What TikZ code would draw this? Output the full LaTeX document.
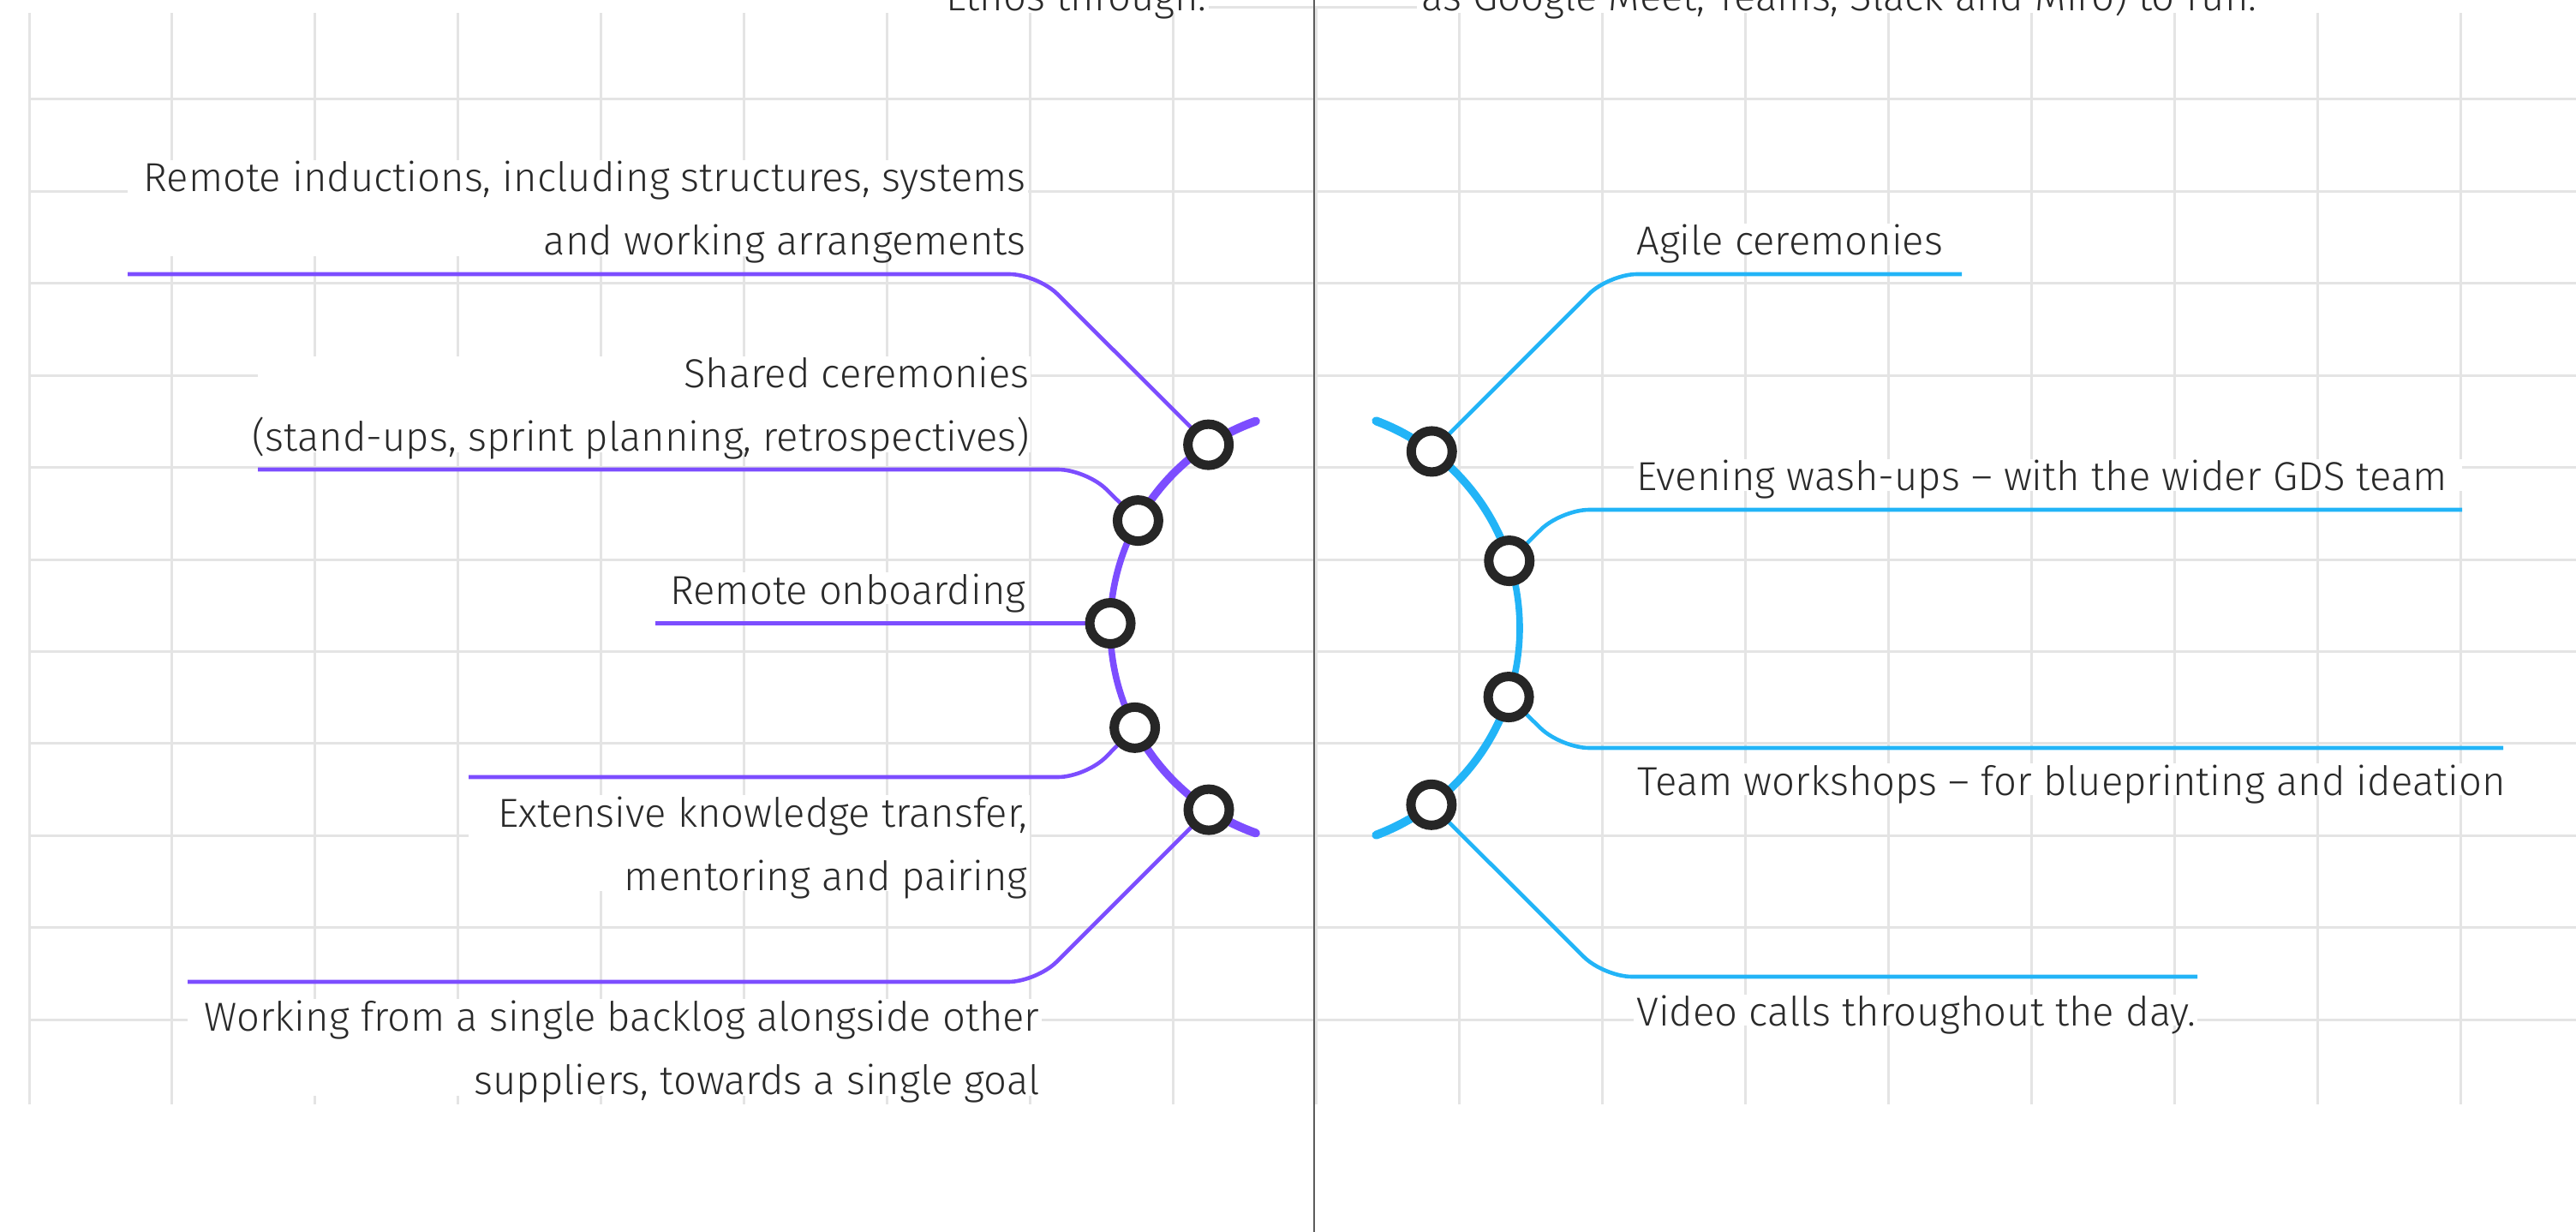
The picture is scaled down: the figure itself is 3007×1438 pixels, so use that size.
\documentclass[tikz,border=0pt]{standalone}
\usepackage{fontspec}
\IfFontExistsTF{Fira Sans Light}{\setmainfont{Fira Sans Light}}{%
  \IfFontExistsTF{Lato Light}{\setmainfont{Lato Light}}{\setmainfont{Fira Sans}}}
\definecolor{lpurple}{HTML}{7C4DFF}
\definecolor{lblue}{HTML}{22B4F7}
\definecolor{gridgray}{HTML}{E4E4E4}
\definecolor{ringgray}{HTML}{262626}
\definecolor{textgray}{HTML}{2A2A2A}
\definecolor{divgray}{HTML}{5C5C5C}
\begin{document}
\begin{tikzpicture}[x=0.5pt, y=-0.5pt,
  gridline/.style={draw=gridgray, line width=1.5pt},
  divider/.style={draw=divgray, line width=1.4pt},
  conn/.style={line width=2.3pt, rounded corners=16.5pt},
  ring/.style={circle, draw=ringgray, line width=5.5pt, fill=white,
               minimum size=24pt, inner sep=0pt},
  lbl/.style={inner sep=0pt, text=textgray, font=\fontsize{23.6pt}{37pt}\selectfont},
  bg/.style={fill=white}]

\useasboundingbox (0,0) rectangle (3007,1438);
\clip (0,0) rectangle (3007,1438);

% background grid
\foreach \k in {0,...,17}
  \draw[gridline] ({34+166.94*\k},8.6) -- ({34+166.94*\k},1289);
\foreach \k in {0,...,11}
  \draw[gridline] (34,{8.6+107.4*\k}) -- (3007,{8.6+107.4*\k});

% text backgrounds
\fill[bg] (0,-20) rectangle (1411,15);
\fill[bg] (1654,-20) rectangle (3007,15);
\fill[bg] (149,187) rectangle (1200,299);
\fill[bg] (301,416) rectangle (1203,528);
\fill[bg] (765,668) rectangle (1200,705);
\fill[bg] (547,928) rectangle (1202,1040);
\fill[bg] (219,1166) rectangle (1216,1279);
\fill[bg] (1907,261) rectangle (2290,298);
\fill[bg] (1907,536) rectangle (2874,573);
\fill[bg] (1907,891) rectangle (2922,928);
\fill[bg] (1907,1161) rectangle (2565,1197);

% centre divider
\draw[divider] (1534,0) -- (1534,1438);

% top texts (continuing from above)
\node[lbl, anchor=base east] (topl) at (1409,13) {Ethos through.};
\node[lbl, anchor=base west] (topr) at (1659,13) {as Google Meet, Teams, Slack and Miro) to run.};

% stations on the two arcs
\coordinate (L1) at ([shift={(1551,732)}]236.6:255);
\coordinate (L2) at ([shift={(1551,732)}]209.2:255);
\coordinate (L3) at ([shift={(1551,732)}]181:255);
\coordinate (L4) at ([shift={(1551,732)}]152.6:255);
\coordinate (L5) at ([shift={(1551,732)}]123.3:255);
\coordinate (R1) at ([shift={(1516,733)}]-53:258);
\coordinate (R2) at ([shift={(1516,733)}]-17.7:258);
\coordinate (R3) at ([shift={(1516,733)}]18.2:258);
\coordinate (R4) at ([shift={(1516,733)}]53.1:258);

% bends and free ends of the connectors
\coordinate (b1) at (1211,320);  \coordinate (e1) at (149,320);
\coordinate (b2) at (1268,548);  \coordinate (e2) at (301,548);
\coordinate (e3) at (765,726);
\coordinate (b4) at (1268,907);  \coordinate (e4) at (547,907);
\coordinate (b5) at (1210,1146); \coordinate (e5) at (219,1146);
\coordinate (f1) at (1878,320);  \coordinate (g1) at (2290,320);
\coordinate (f2) at (1822,595);  \coordinate (g2) at (2874,595);
\coordinate (f3) at (1822,873);  \coordinate (g3) at (2922,873);
\coordinate (f4) at (1872,1140); \coordinate (g4) at (2565,1140);

% connectors
\draw[conn, lpurple] (L1) -- (b1) -- (e1);
\draw[conn, lpurple] (L2) -- (b2) -- (e2);
\draw[conn, lpurple] (L3) -- (L3 -| e3);
\draw[conn, lpurple] (L4) -- (b4) -- (e4);
\draw[conn, lpurple] (L5) -- (b5) -- (e5);
\draw[conn, lblue] (R1) -- (f1) -- (g1);
\draw[conn, lblue] (R2) -- (f2) -- (g2);
\draw[conn, lblue] (R3) -- (f3) -- (g3);
\draw[conn, lblue] (R4) -- (f4) -- (g4);

% left arc, thicker toward its ends
\begin{scope}[lpurple, line cap=round]
  \draw[line width=5pt]   ([shift={(1551,732)}]109.5:255) arc[start angle=109.5, end angle=123.3, radius=255];
  \draw[line width=4.6pt] (L5) arc[start angle=123.3, end angle=152.6, radius=255];
  \draw[line width=3.8pt] (L4) arc[start angle=152.6, end angle=209.2, radius=255];
  \draw[line width=4.6pt] (L2) arc[start angle=209.2, end angle=236.6, radius=255];
  \draw[line width=5pt]   (L1) arc[start angle=236.6, end angle=250.5, radius=255];
\end{scope}
% right arc
\begin{scope}[lblue, line cap=round]
  \draw[line width=5pt]   ([shift={(1516,733)}]-69.5:258) arc[start angle=-69.5, end angle=-53, radius=258];
  \draw[line width=4.6pt] (R1) arc[start angle=-53, end angle=-17.7, radius=258];
  \draw[line width=3.8pt] (R2) arc[start angle=-17.7, end angle=18.2, radius=258];
  \draw[line width=4.6pt] (R3) arc[start angle=18.2, end angle=53.1, radius=258];
  \draw[line width=5pt]   (R4) arc[start angle=53.1, end angle=69.5, radius=258];
\end{scope}

% station rings
\foreach \s in {L1,L2,L3,L4,L5,R1,R2,R3,R4}
  \node[ring] (n\s) at (\s) {};

% labels
\node[lbl, anchor=base east] (t1) at (1198,224) {\begin{tabular}[t]{@{}r@{}}Remote inductions, including structures, systems\\ and working arrangements\end{tabular}};
\node[lbl, anchor=base east] (t2) at (1202,453) {\begin{tabular}[t]{@{}r@{}}Shared ceremonies\\ (stand-ups, sprint planning, retrospectives)\end{tabular}};
\node[lbl, anchor=base east] (t3) at (1198,705) {Remote onboarding};
\node[lbl, anchor=base east] (t4) at (1200,965) {\begin{tabular}[t]{@{}r@{}}Extensive knowledge transfer,\\ mentoring and pairing\end{tabular}};
\node[lbl, anchor=base east] (t5) at (1214,1203) {\begin{tabular}[t]{@{}r@{}}Working from a single backlog alongside other\\ suppliers, towards a single goal\end{tabular}};
\node[lbl, anchor=base west] (u1) at (1910,298) {Agile ceremonies};
\node[lbl, anchor=base west] (u2) at (1910,573) {Evening wash-ups – with the wider GDS team};
\node[lbl, anchor=base west] (u3) at (1911,928) {Team workshops – for blueprinting and ideation};
\node[lbl, anchor=base west] (u4) at (1910,1197) {Video calls throughout the day.};
\end{tikzpicture}
\end{document}
